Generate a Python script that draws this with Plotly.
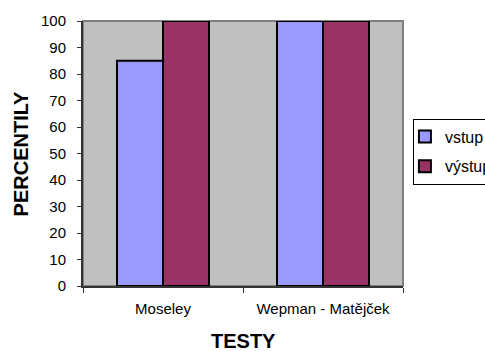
import plotly.graph_objects as go

categories = ["Moseley", "Wepman - Matějček"]
vstup = [85, 100]
vystup = [100, 100]
series_names = ["vstup", "výstup"]
y_ticks = list(range(0, 101, 10))

FONT = "Liberation Sans, Arial, sans-serif"

fig = go.Figure()
fig.add_trace(go.Bar(
    x=categories, y=vstup, name=series_names[0], legendgroup="a",
    marker=dict(color="#9999FF", line=dict(color="black", width=2)),
))
fig.add_trace(go.Bar(
    x=categories, y=vystup, name=series_names[1], legendgroup="b",
    marker=dict(color="#993366", line=dict(color="black", width=2)),
))

# figure is a bit wider than the 485px window so the legend is clipped at the right edge
fig.update_layout(
    width=520, height=351,
    margin=dict(l=83, r=117, t=18, b=65),
    paper_bgcolor="white",
    plot_bgcolor="#C0C0C0",
    barmode="group",
    bargap=0.425,
    bargroupgap=0,
    font=dict(family=FONT, size=15, color="black"),
    legend=dict(
        x=1.031, xanchor="left", y=0.632, yanchor="top",
        bordercolor="black", borderwidth=1, bgcolor="white",
        font=dict(size=16, family=FONT, color="black"),
        tracegroupgap=6, traceorder="grouped",
        indentation=-9,
    ),
    xaxis=dict(
        showline=True, linecolor="#333333", linewidth=2,
        ticks="outside", ticklen=5, tickcolor="#333333", tickwidth=1,
        tickson="boundaries", ticklabelstandoff=8,
        showgrid=False, zeroline=False, fixedrange=True,
        tickfont=dict(size=15),
    ),
    yaxis=dict(
        range=[0, 100], tickvals=y_ticks,
        showline=True, linecolor="#333333", linewidth=2,
        ticks="outside", ticklen=4, tickcolor="#333333", tickwidth=1,
        ticklabelstandoff=8,
        showgrid=False, zeroline=False, fixedrange=True,
        tickfont=dict(size=15),
    ),
    shapes=[dict(
        type="rect", xref="x domain", yref="y domain",
        x0=0, x1=1, y0=0, y1=1,
        line=dict(color="#808080", width=2), layer="below",
    )],
    annotations=[
        dict(text="<b>TESTY</b>", xref="paper", yref="paper", x=0.5, y=-0.209,
             xanchor="center", yanchor="middle", showarrow=False,
             font=dict(size=20, family=FONT, color="black")),
        dict(text="<b>PERCENTILY</b>", xref="paper", yref="paper", x=-0.194, y=0.5,
             xanchor="center", yanchor="middle", showarrow=False, textangle=-90,
             font=dict(size=20, family=FONT, color="black")),
    ],
)

fig.write_html(
    "out.html",
    post_script="document.documentElement.style.overflow='hidden';"
                "document.body.style.overflow='hidden';document.body.style.margin='0';",
)
